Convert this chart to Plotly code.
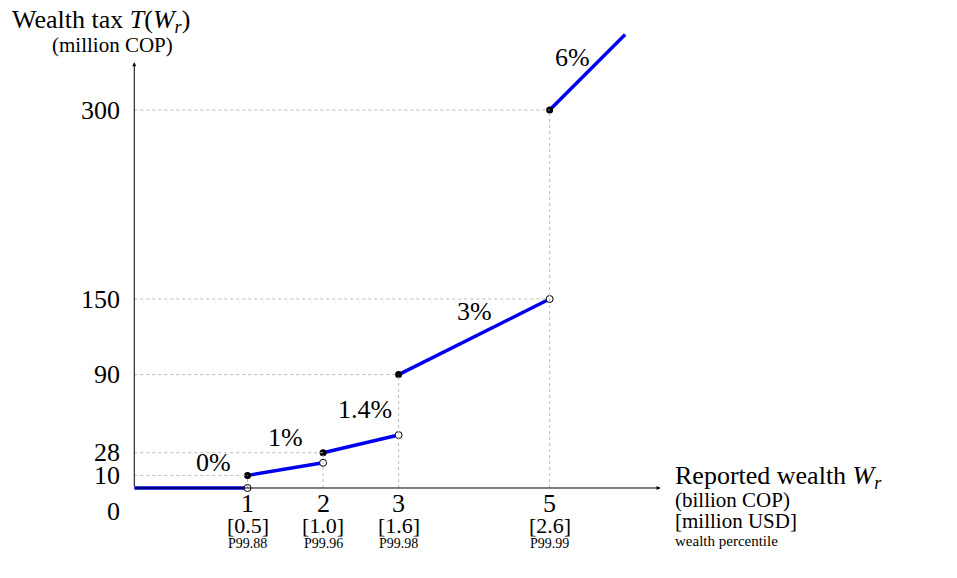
import plotly.graph_objects as go

# tax schedule segments: (x0, y0) -> (x1, y1)
seg_x0 = [0, 1, 2, 3, 5]
seg_x1 = [1, 2, 3, 5, 6]
seg_y0 = [0, 10, 28, 90, 300]
seg_y1 = [0, 20, 42, 150, 360]
rates = ["0%", "1%", "1.4%", "3%", "6%"]
rate_pos = [(0.55, 20), (1.5, 40), (2.55, 62), (4.0, 140), (5.3, 342)]

x_ticks = [1, 2, 3, 5]
usd_labels = ["[0.5]", "[1.0]", "[1.6]", "[2.6]"]
pct_labels = ["P99.88", "P99.96", "P99.98", "P99.99"]
y_ticks = [10, 28, 90, 150, 300]
y_guide_x = [1, 2, 3, 5, 5]
x_guide_top = [10, 28, 90, 300]

SERIF = "Liberation Serif"
ORIGIN = -0.5
GUIDE = dict(color="#bbbbbb", width=1, dash="dot")

fig = go.Figure()

for y, xi in zip(y_ticks, y_guide_x):
    fig.add_shape(type="line", x0=ORIGIN, x1=xi, y0=y, y1=y, line=GUIDE)
for x, ytop in zip(x_ticks, x_guide_top):
    fig.add_shape(type="line", x0=x, x1=x, y0=0, y1=ytop, line=GUIDE)

for i in range(len(seg_x0)):
    x0 = seg_x0[i] if i > 0 else ORIGIN
    fig.add_trace(go.Scatter(x=[x0, seg_x1[i]], y=[seg_y0[i], seg_y1[i]], mode="lines",
                             line=dict(color="#0000ee", width=3.5), showlegend=False))

fig.add_trace(go.Scatter(x=seg_x0[1:], y=seg_y0[1:], mode="markers",
                         marker=dict(color="black", size=7), showlegend=False))
fig.add_trace(go.Scatter(x=seg_x1[:4], y=seg_y1[:4], mode="markers",
                         marker=dict(color="white", size=7, line=dict(color="black", width=1)),
                         showlegend=False))

ann = []
ann.append(dict(x=6.47, y=0, ax=ORIGIN, ay=0, axref="x", ayref="y", xref="x", yref="y",
                showarrow=True, arrowhead=2, arrowsize=0.8, arrowwidth=1, arrowcolor="black", text=""))
ann.append(dict(x=ORIGIN, y=338, ax=ORIGIN, ay=0, axref="x", ayref="y", xref="x", yref="y",
                showarrow=True, arrowhead=2, arrowsize=0.8, arrowwidth=1, arrowcolor="black", text=""))

for t, (x, y) in zip(rates, rate_pos):
    ann.append(dict(x=x, y=y, text=t, showarrow=False, font=dict(size=26)))

for x, u, p in zip(x_ticks, usd_labels, pct_labels):
    ann.append(dict(x=x, y=0, text=str(x), showarrow=False, yshift=-16, font=dict(size=26)))
    ann.append(dict(x=x, y=0, text=u, showarrow=False, yshift=-38, font=dict(size=22)))
    ann.append(dict(x=x, y=0, text=p, showarrow=False, yshift=-56, font=dict(size=14)))

for y in y_ticks:
    ann.append(dict(x=ORIGIN, y=y, text=str(y), showarrow=False, xanchor="right", xshift=-12,
                    font=dict(size=26)))
ann.append(dict(x=ORIGIN, y=0, text="0", showarrow=False, xanchor="right", xshift=-12, yshift=-24,
                font=dict(size=26)))

# axis titles placed by page pixel (left, center y)
titles = [
    (10, 21, "Wealth tax <i>T</i>(<i>W<sub>r</sub></i>)", 26),
    (50, 45, "(million COP)", 21),
    (673, 477, "Reported wealth <i>W<sub>r</sub></i>", 26),
    (673, 500, "(billion COP)", 21),
    (673, 521, "[million USD]", 21),
    (673, 541, "wealth percentile", 15),
]
for px, py, t, s in titles:
    ann.append(dict(x=(px - 8) / 957, y=1 - (py - 8) / 578, xref="paper", yref="paper", text=t,
                    showarrow=False, xanchor="left", yanchor="middle", font=dict(size=s)))

fig.update_layout(
    width=957, height=578, margin=dict(l=0, r=0, t=0, b=0),
    plot_bgcolor="white", paper_bgcolor="white",
    font=dict(family=SERIF, color="black"),
    xaxis=dict(range=[-2.172, 10.50], visible=False, fixedrange=True),
    yaxis=dict(range=[-77.8, 381], visible=False, fixedrange=True),
    annotations=ann,
)
fig.write_html("out.html")
